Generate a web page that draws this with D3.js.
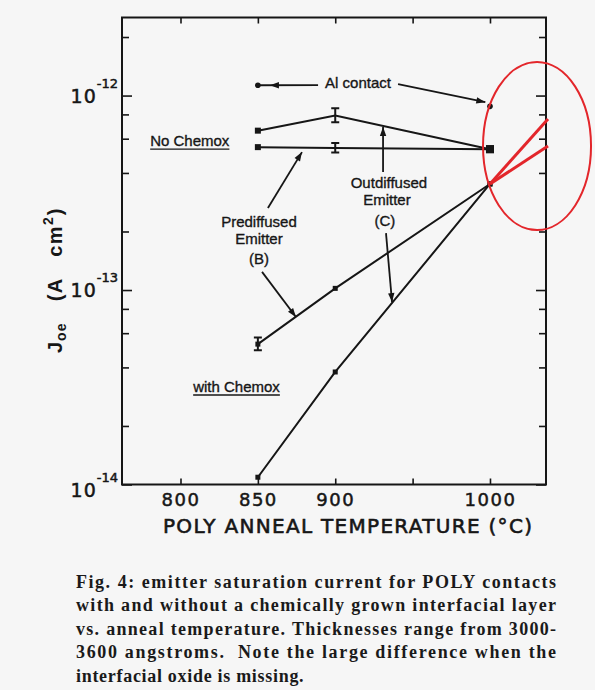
<!DOCTYPE html>
<html>
<head>
<meta charset="utf-8">
<script src="https://cdn.jsdelivr.net/npm/d3@7"></script>
<style>
  body { margin: 0; background: #f6f6f6; }
  svg { display: block; }
</style>
</head>
<body>
<svg id="chart" width="595" height="690"></svg>
<script>
// values
const temps = [850, 900, 1000];
const noChemoxB = [5.43e-13, 5.37e-13, 5.3e-13];       // prediffused, no chemox
const noChemoxC = [6.6e-13, 7.9e-13, 5.3e-13];         // outdiffused, no chemox
const chemoxB = [5.27e-14, 1.02e-13, 3.51e-13];        // prediffused, with chemox
const chemoxC = [1.09e-14, 3.79e-14, 3.51e-13];        // outdiffused, with chemox
const errNoChemoxB = [null, [5.1e-13, 5.7e-13], null];
const errNoChemoxC = [null, [7.3e-13, 8.6e-13], null];
const errChemoxB = [[4.9e-14, 5.7e-14], null, null];
const alTemps = [850, 1000];
const alContact = [1.13e-12, 0.88e-12];
// red hand-drawn extrapolation
const redTemps = [1000, 1037.5];
const redUpper = [3.51e-13, 7.57e-13];
const redLower = [3.51e-13, 5.5e-13];

const xTicks = [800, 850, 900, 950, 1000];
const xTickLabels = ["800", "850", "900", "", "1000"];
const yMajor = [1e-14, 1e-13, 1e-12];
const yMajorExp = ["-14", "-13", "-12"];
const yMinor = [2e-14, 4e-14, 6e-14, 8e-14, 2e-13, 4e-13, 6e-13, 8e-13, 2e-12];

const captionLines = [
  "Fig. 4: emitter saturation current for POLY contacts",
  "with and without a chemically grown interfacial layer",
  "vs. anneal temperature. Thicknesses range from 3000-",
  "3600 angstroms.  Note the large difference when the",
  "interfacial oxide is missing."
];

const svg = d3.select("#chart");
const ink = "#161616";
const red = "#e3262b";

const x = d3.scaleLinear().domain([762.2, 1036.2]).range([122, 546]);
const y = d3.scaleLog().domain([1e-14, 2.52e-12]).range([484.5, 17.5]);

const sans = "'DejaVu Sans', sans-serif";
const label = "'Liberation Sans', Arial, sans-serif";

// ticks (all pointing inwards)
function clean(g) {
  g.select(".domain").remove();
  g.selectAll(".tick line").attr("stroke", ink).attr("stroke-width", 1.6);
}
svg.append("g").attr("transform", `translate(0,${y.range()[0]})`)
  .call(d3.axisBottom(x).tickValues(xTicks).tickSizeInner(-6).tickSizeOuter(0)
    .tickPadding(9).tickFormat((d, i) => xTickLabels[i]))
  .call(clean)
  .call(g => g.selectAll(".tick text")
    .attr("fill", ink).attr("stroke", ink).attr("stroke-width", 0.5)
    .attr("font-family", sans).attr("font-size", 18)
    .attr("letter-spacing", 1.5));
svg.append("g").attr("transform", `translate(0,${y.range()[1]})`)
  .call(d3.axisTop(x).tickValues(xTicks).tickSizeInner(-6).tickSizeOuter(0).tickFormat(""))
  .call(clean);
[[d3.axisLeft, x.range()[0]], [d3.axisRight, x.range()[1]]].forEach(([ax, px]) => {
  svg.append("g").attr("transform", `translate(${px},0)`)
    .call(ax(y).tickValues(yMinor).tickSizeInner(-7).tickSizeOuter(0).tickFormat(""))
    .call(clean);
  svg.append("g").attr("transform", `translate(${px},0)`)
    .call(ax(y).tickValues(yMajor).tickSizeInner(-10).tickSizeOuter(0).tickFormat(""))
    .call(clean);
});

// frame
svg.append("rect")
  .attr("x", x.range()[0]).attr("y", y.range()[1])
  .attr("width", x.range()[1] - x.range()[0])
  .attr("height", y.range()[0] - y.range()[1])
  .attr("fill", "none").attr("stroke", ink).attr("stroke-width", 2);

// y decade labels
yMajor.forEach((v, i) => {
  const shift = i === 0 ? 5 : 0;
  const t = svg.append("text")
    .attr("x", 118).attr("y", y(v) + 7 + shift)
    .attr("text-anchor", "end")
    .attr("font-family", sans).attr("fill", ink)
    .attr("stroke", ink).attr("stroke-width", 0.5);
  t.append("tspan").attr("font-size", 19).attr("letter-spacing", 1).text("10");
  t.append("tspan").attr("font-size", 13).attr("dy", -15).text(yMajorExp[i]);
});

// axis titles
svg.append("text")
  .attr("x", 163).attr("y", 533)
  .attr("font-family", sans).attr("font-size", 20).attr("fill", ink)
  .attr("stroke", ink).attr("stroke-width", 0.6)
  .attr("textLength", 369).attr("lengthAdjust", "spacing")
  .text("POLY ANNEAL  TEMPERATURE  (°C)");

const yt = svg.append("text")
  .attr("transform", "translate(62,353) rotate(-90)")
  .attr("font-family", label).attr("font-weight", "bold").attr("font-size", 20).attr("fill", ink)
  .attr("xml:space", "preserve");
yt.append("tspan").text("J");
yt.append("tspan").attr("font-size", 14).attr("dy", 4).attr("dx", 1).attr("letter-spacing", 1).text("oe");
yt.append("tspan").attr("dy", -4).attr("letter-spacing", 1.5).text("   (A   cm");
yt.append("tspan").attr("font-size", 14).attr("dy", -9).text("2");
yt.append("tspan").attr("dy", 9).attr("dx", 2).text(")");

// series lines
const line = d3.line().x(d => x(d[0])).y(d => y(d[1]));
[noChemoxB, noChemoxC, chemoxB, chemoxC].forEach(vals => {
  svg.append("path")
    .datum(temps.map((t, i) => [t, vals[i]]))
    .attr("d", line)
    .attr("fill", "none").attr("stroke", ink).attr("stroke-width", 2);
});

// markers
function square(t, v, s) {
  svg.append("rect")
    .attr("x", x(t) - s / 2).attr("y", y(v) - s / 2)
    .attr("width", s).attr("height", s).attr("fill", ink);
}
function errBar(t, e) {
  const cx = x(t), y0 = y(e[0]), y1 = y(e[1]);
  svg.append("path")
    .attr("d", `M${cx},${y0}V${y1}M${cx - 4},${y0}H${cx + 4}M${cx - 4},${y1}H${cx + 4}`)
    .attr("fill", "none").attr("stroke", ink).attr("stroke-width", 2);
}
[[noChemoxB, errNoChemoxB], [noChemoxC, errNoChemoxC], [chemoxB, errChemoxB], [chemoxC, null]]
  .forEach(([vals, errs], k) => {
    temps.forEach((t, i) => {
      if (errs && errs[i]) errBar(t, errs[i]);
      if (t === 900 && k < 2) return;
      const s = t === 1000 && k < 2 ? 8 : (k >= 2 ? 5 : 6);
      square(t, vals[i], s);
    });
  });
alTemps.forEach((t, i) => {
  svg.append("circle").attr("cx", x(t)).attr("cy", y(alContact[i]))
    .attr("r", 2.8).attr("fill", ink);
});

// annotations: arrows in data units
function arrow(from, to, head) {
  const x0 = x(from[0]), y0 = y(from[1]), x1 = x(to[0]), y1 = y(to[1]);
  svg.append("line").attr("x1", x0).attr("y1", y0).attr("x2", x1).attr("y2", y1)
    .attr("stroke", ink).attr("stroke-width", 1.8);
  const hp = head ? [x(head[0]), y(head[1])] : [x1, y1];
  const a = Math.atan2(y1 - y0, x1 - x0), L = 9, W = 3.2;
  const bx = hp[0] - L * Math.cos(a), by = hp[1] - L * Math.sin(a);
  svg.append("path")
    .attr("d", `M${hp[0]},${hp[1]}L${bx + W * Math.sin(a)},${by - W * Math.cos(a)}` +
      `L${bx - W * Math.sin(a)},${by + W * Math.cos(a)}Z`)
    .attr("fill", ink);
}
arrow([888.9, 1.132e-12], [850.1, 1.13e-12], [857.8, 1.13e-12]);
arrow([940.6, 1.146e-12], [997, 0.925e-12]);
arrow([856.5, 2.64e-13], [878.5, 5.12e-13]);
arrow([852.7, 1.24e-13], [874.6, 7.26e-14]);
arrow([930.9, 4.04e-13], [930.9, 6.89e-13]);
arrow([932.8, 1.96e-13], [936.7, 8.67e-14]);

function note(t, v, txt, underline) {
  const el = svg.append("text")
    .attr("x", x(t)).attr("y", y(v))
    .attr("text-anchor", "middle")
    .attr("font-family", label).attr("font-size", 15).attr("fill", ink)
    .attr("stroke", ink).attr("stroke-width", 0.35)
    .text(txt);
  if (underline) {
    const w = el.node().getComputedTextLength();
    svg.append("line")
      .attr("x1", x(t) - w / 2).attr("x2", x(t) + w / 2)
      .attr("y1", y(v) + 3).attr("y2", y(v) + 3)
      .attr("stroke", ink).attr("stroke-width", 1.3);
  }
}
note(914.7, 1.093e-12, "Al contact");
note(806, 5.5e-13, "No Chemox", true);
note(836.2, 2.99e-14, "with Chemox", true);
note(850.7, 2.11e-13, "Prediffused");
note(850.7, 1.72e-13, "Emitter");
note(850.7, 1.36e-13, "(B)");
note(934.7, 3.35e-13, "Outdiffused");
note(933.4, 2.74e-13, "Emitter");
note(932.1, 2.13e-13, "(C)");

// red markup over the scan
[redUpper, redLower].forEach(vals => {
  svg.append("path")
    .datum(redTemps.map((t, i) => [t, vals[i]]))
    .attr("d", line)
    .attr("fill", "none").attr("stroke", red).attr("stroke-width", 3);
});
svg.append("ellipse")
  .attr("cx", x(1030.4)).attr("cy", y(5.5e-13))
  .attr("rx", 54).attr("ry", 84)
  .attr("fill", "none").attr("stroke", red).attr("stroke-width", 2);

// caption
const capLeft = 76, capRight = 556;
captionLines.forEach((s, i) => {
  const t = svg.append("text")
    .attr("x", capLeft).attr("y", 588 + i * 23.4)
    .attr("font-family", "'Liberation Serif', 'Times New Roman', serif")
    .attr("font-weight", "bold").attr("font-size", 18).attr("fill", "#1a1a1a")
    .attr("xml:space", "preserve")
    .text(s);
  if (i < captionLines.length - 1) {
    t.attr("textLength", capRight - capLeft).attr("lengthAdjust", "spacing");
  } else {
    t.attr("letter-spacing", 0.7);
  }
});
</script>
</body>
</html>
